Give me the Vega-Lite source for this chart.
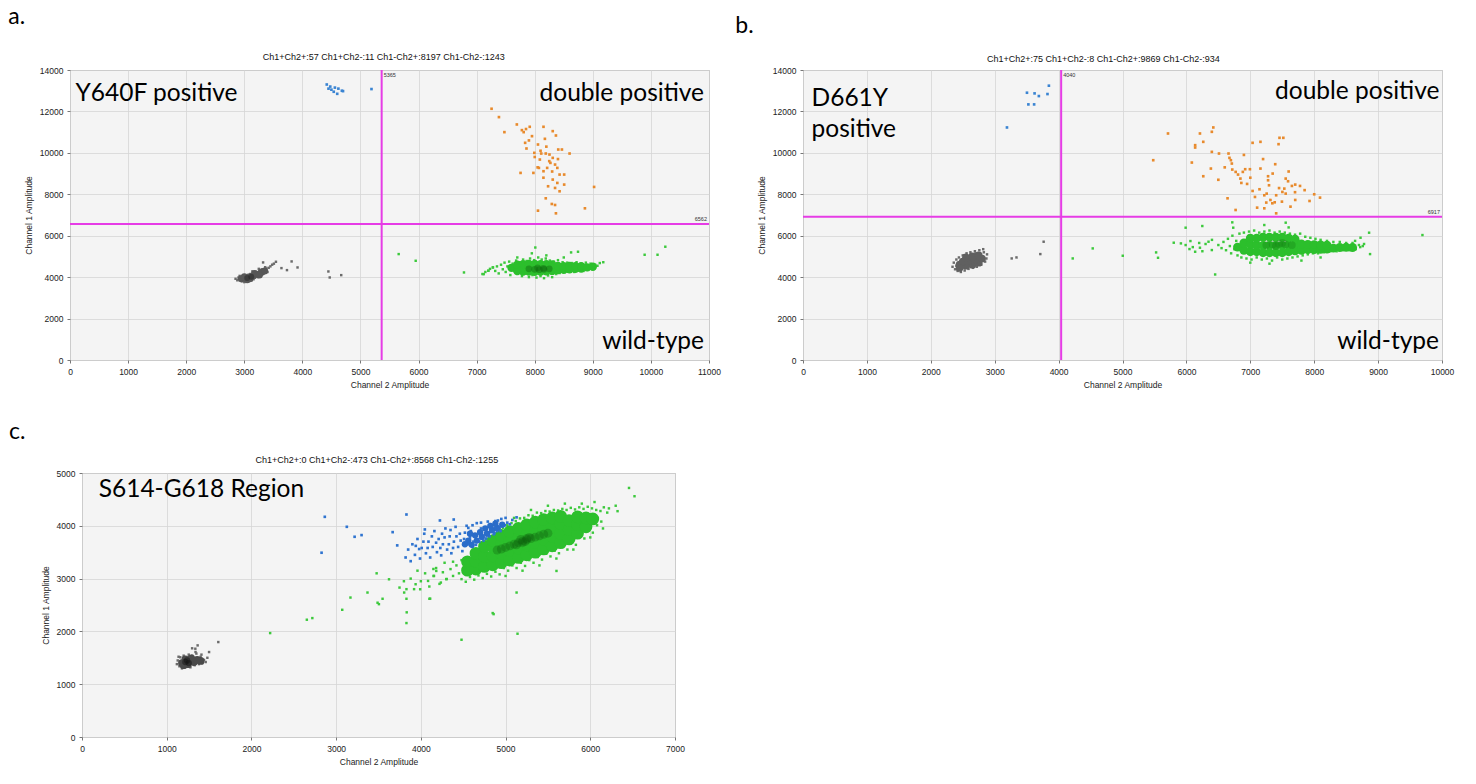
{
"$schema":"https://vega.github.io/schema/vega-lite/v6.json",
"background":"white",
"padding":{"left":7,"top":5,"right":5,"bottom":5},
"bounds":"flush",
"spacing":403,
"vconcat":[
{"hconcat":[
{"width":639,"height":290,
"title":{"text":"a.","dx":-16,"offset":24},
"layer":[
{"data":{"name":"aK"},"mark":{"type":"square","size":6,"color":"#6b6b6b","opacity":1},"encoding":{"x":{"field":"x","type":"quantitative","scale":{"domain":[0,11000],"nice":false},"axis":{"title":"Channel 2 Amplitude","tickCount":11}},"y":{"field":"y","type":"quantitative","scale":{"domain":[0,14000],"nice":false},"axis":{"title":"Channel 1 Amplitude","tickCount":7}}}},
{"data":{"name":"aKc"},"mark":{"type":"circle","size":50,"color":"#575757","opacity":1},"encoding":{"x":{"field":"x","type":"quantitative","scale":{"domain":[0,11000],"nice":false}},"y":{"field":"y","type":"quantitative","scale":{"domain":[0,14000],"nice":false}}}},
{"data":{"name":"aKd"},"mark":{"type":"circle","size":35,"color":"#222222","opacity":0.5},"encoding":{"x":{"field":"x","type":"quantitative","scale":{"domain":[0,11000],"nice":false}},"y":{"field":"y","type":"quantitative","scale":{"domain":[0,14000],"nice":false}}}},
{"data":{"name":"aB"},"mark":{"type":"square","size":7,"color":"#3a84d2","opacity":1},"encoding":{"x":{"field":"x","type":"quantitative","scale":{"domain":[0,11000],"nice":false}},"y":{"field":"y","type":"quantitative","scale":{"domain":[0,14000],"nice":false}}}},
{"data":{"name":"aO"},"mark":{"type":"square","size":7,"color":"#e88a2c","opacity":1},"encoding":{"x":{"field":"x","type":"quantitative","scale":{"domain":[0,11000],"nice":false}},"y":{"field":"y","type":"quantitative","scale":{"domain":[0,14000],"nice":false}}}},
{"data":{"name":"aG"},"mark":{"type":"square","size":6,"color":"#3cc93c","opacity":1},"encoding":{"x":{"field":"x","type":"quantitative","scale":{"domain":[0,11000],"nice":false}},"y":{"field":"y","type":"quantitative","scale":{"domain":[0,14000],"nice":false}}}},
{"data":{"name":"aGc"},"mark":{"type":"circle","size":70,"color":"#2cbf2c","opacity":1},"encoding":{"x":{"field":"x","type":"quantitative","scale":{"domain":[0,11000],"nice":false}},"y":{"field":"y","type":"quantitative","scale":{"domain":[0,14000],"nice":false}}}},
{"data":{"name":"aGd"},"mark":{"type":"circle","size":45,"color":"#0f6a0f","opacity":0.45},"encoding":{"x":{"field":"x","type":"quantitative","scale":{"domain":[0,11000],"nice":false}},"y":{"field":"y","type":"quantitative","scale":{"domain":[0,14000],"nice":false}}}},
{"data":{"name":"aV"},"mark":{"type":"rule","color":"#e63ce6","strokeWidth":2},"encoding":{"x":{"field":"x","type":"quantitative","scale":{"domain":[0,11000],"nice":false}}}},
{"data":{"name":"aH"},"mark":{"type":"rule","color":"#e63ce6","strokeWidth":2},"encoding":{"y":{"field":"y","type":"quantitative","scale":{"domain":[0,14000],"nice":false}}}},
{"data":{"name":"aV"},"mark":{"type":"text","font":"Liberation Sans","fontSize":5.5,"color":"#333","align":"left","baseline":"top","dx":2,"dy":3},"encoding":{"x":{"field":"x","type":"quantitative","scale":{"domain":[0,11000],"nice":false}},"y":{"datum":14000,"type":"quantitative","scale":{"domain":[0,14000],"nice":false}},"text":{"field":"t"}}},
{"data":{"name":"aH"},"mark":{"type":"text","font":"Liberation Sans","fontSize":5.5,"color":"#333","align":"right","baseline":"bottom","dx":-2,"dy":-2},"encoding":{"x":{"datum":11000,"type":"quantitative","scale":{"domain":[0,11000],"nice":false}},"y":{"field":"y","type":"quantitative","scale":{"domain":[0,14000],"nice":false}},"text":{"field":"t"}}},
{"data":{"name":"aS"},"mark":{"type":"text","font":"Liberation Sans","fontSize":9,"color":"#111","align":"center","baseline":"middle","dy":-13},"encoding":{"x":{"field":"x","type":"quantitative","scale":{"domain":[0,11000],"nice":false}},"y":{"datum":14000,"type":"quantitative","scale":{"domain":[0,14000],"nice":false}},"text":{"field":"t"}}},
{"data":{"name":"aTL"},"mark":{"type":"text","font":"Lato","fontSize":24.5,"color":"#000","align":"left","baseline":"alphabetic"},"encoding":{"x":{"field":"x","type":"quantitative","scale":{"domain":[0,11000],"nice":false}},"y":{"field":"y","type":"quantitative","scale":{"domain":[0,14000],"nice":false}},"text":{"field":"t"}}},
{"data":{"name":"aTR"},"mark":{"type":"text","font":"Lato","fontSize":24.5,"color":"#000","align":"right","baseline":"alphabetic"},"encoding":{"x":{"field":"x","type":"quantitative","scale":{"domain":[0,11000],"nice":false}},"y":{"field":"y","type":"quantitative","scale":{"domain":[0,14000],"nice":false}},"text":{"field":"t"}}}
]},
{"width":639,"height":290,
"title":{"text":"b.","dx":-22,"offset":17},
"layer":[
{"data":{"name":"bK"},"mark":{"type":"square","size":6,"color":"#6b6b6b","opacity":1},"encoding":{"x":{"field":"x","type":"quantitative","scale":{"domain":[0,10000],"nice":false},"axis":{"title":"Channel 2 Amplitude","tickCount":10}},"y":{"field":"y","type":"quantitative","scale":{"domain":[0,14000],"nice":false},"axis":{"title":"Channel 1 Amplitude","tickCount":7}}}},
{"data":{"name":"bKc"},"mark":{"type":"circle","size":60,"color":"#606060","opacity":1},"encoding":{"x":{"field":"x","type":"quantitative","scale":{"domain":[0,10000],"nice":false}},"y":{"field":"y","type":"quantitative","scale":{"domain":[0,14000],"nice":false}}}},
{"data":{"name":"bB"},"mark":{"type":"square","size":7,"color":"#3a84d2","opacity":1},"encoding":{"x":{"field":"x","type":"quantitative","scale":{"domain":[0,10000],"nice":false}},"y":{"field":"y","type":"quantitative","scale":{"domain":[0,14000],"nice":false}}}},
{"data":{"name":"bO"},"mark":{"type":"square","size":7,"color":"#e88a2c","opacity":1},"encoding":{"x":{"field":"x","type":"quantitative","scale":{"domain":[0,10000],"nice":false}},"y":{"field":"y","type":"quantitative","scale":{"domain":[0,14000],"nice":false}}}},
{"data":{"name":"bG"},"mark":{"type":"square","size":6,"color":"#3cc93c","opacity":1},"encoding":{"x":{"field":"x","type":"quantitative","scale":{"domain":[0,10000],"nice":false}},"y":{"field":"y","type":"quantitative","scale":{"domain":[0,14000],"nice":false}}}},
{"data":{"name":"bGc"},"mark":{"type":"circle","size":80,"color":"#2cbf2c","opacity":1},"encoding":{"x":{"field":"x","type":"quantitative","scale":{"domain":[0,10000],"nice":false}},"y":{"field":"y","type":"quantitative","scale":{"domain":[0,14000],"nice":false}}}},
{"data":{"name":"bGd"},"mark":{"type":"circle","size":60,"color":"#138013","opacity":0.35},"encoding":{"x":{"field":"x","type":"quantitative","scale":{"domain":[0,10000],"nice":false}},"y":{"field":"y","type":"quantitative","scale":{"domain":[0,14000],"nice":false}}}},
{"data":{"name":"bV"},"mark":{"type":"rule","color":"#e63ce6","strokeWidth":2},"encoding":{"x":{"field":"x","type":"quantitative","scale":{"domain":[0,10000],"nice":false}}}},
{"data":{"name":"bH"},"mark":{"type":"rule","color":"#e63ce6","strokeWidth":2},"encoding":{"y":{"field":"y","type":"quantitative","scale":{"domain":[0,14000],"nice":false}}}},
{"data":{"name":"bV"},"mark":{"type":"text","font":"Liberation Sans","fontSize":5.5,"color":"#333","align":"left","baseline":"top","dx":2,"dy":3},"encoding":{"x":{"field":"x","type":"quantitative","scale":{"domain":[0,10000],"nice":false}},"y":{"datum":14000,"type":"quantitative","scale":{"domain":[0,14000],"nice":false}},"text":{"field":"t"}}},
{"data":{"name":"bH"},"mark":{"type":"text","font":"Liberation Sans","fontSize":5.5,"color":"#333","align":"right","baseline":"bottom","dx":-2,"dy":-2},"encoding":{"x":{"datum":10000,"type":"quantitative","scale":{"domain":[0,10000],"nice":false}},"y":{"field":"y","type":"quantitative","scale":{"domain":[0,14000],"nice":false}},"text":{"field":"t"}}},
{"data":{"name":"bS"},"mark":{"type":"text","font":"Liberation Sans","fontSize":9,"color":"#111","align":"center","baseline":"middle","dy":-11},"encoding":{"x":{"field":"x","type":"quantitative","scale":{"domain":[0,10000],"nice":false}},"y":{"datum":14000,"type":"quantitative","scale":{"domain":[0,14000],"nice":false}},"text":{"field":"t"}}},
{"data":{"name":"bTL"},"mark":{"type":"text","font":"Lato","fontSize":24.5,"color":"#000","align":"left","baseline":"alphabetic"},"encoding":{"x":{"field":"x","type":"quantitative","scale":{"domain":[0,10000],"nice":false}},"y":{"field":"y","type":"quantitative","scale":{"domain":[0,14000],"nice":false}},"text":{"field":"t"}}},
{"data":{"name":"bTR"},"mark":{"type":"text","font":"Lato","fontSize":24.5,"color":"#000","align":"right","baseline":"alphabetic"},"encoding":{"x":{"field":"x","type":"quantitative","scale":{"domain":[0,10000],"nice":false}},"y":{"field":"y","type":"quantitative","scale":{"domain":[0,14000],"nice":false}},"text":{"field":"t"}}}
]}
],"spacing":94,"bounds":"flush"},
{"hconcat":[
{"width":12,"height":264,"view":{"fill":null,"stroke":null},"data":{"values":[{"a":1}]},"mark":{"type":"point","opacity":0},"encoding":{}},
{"width":593,"height":264,
"title":{"text":"c.","dx":-32,"offset":12},
"layer":[
{"data":{"name":"cK"},"mark":{"type":"square","size":6,"color":"#6b6b6b","opacity":1},"encoding":{"x":{"field":"x","type":"quantitative","scale":{"domain":[0,7000],"nice":false},"axis":{"title":"Channel 2 Amplitude","tickCount":7}},"y":{"field":"y","type":"quantitative","scale":{"domain":[0,5000],"nice":false},"axis":{"title":"Channel 1 Amplitude","tickCount":5}}}},
{"data":{"name":"cKc"},"mark":{"type":"circle","size":60,"color":"#4a4a4a","opacity":1},"encoding":{"x":{"field":"x","type":"quantitative","scale":{"domain":[0,7000],"nice":false}},"y":{"field":"y","type":"quantitative","scale":{"domain":[0,5000],"nice":false}}}},
{"data":{"name":"cKd"},"mark":{"type":"circle","size":40,"color":"#111111","opacity":0.5},"encoding":{"x":{"field":"x","type":"quantitative","scale":{"domain":[0,7000],"nice":false}},"y":{"field":"y","type":"quantitative","scale":{"domain":[0,5000],"nice":false}}}},
{"data":{"name":"cG"},"mark":{"type":"square","size":6,"color":"#3cc93c","opacity":1},"encoding":{"x":{"field":"x","type":"quantitative","scale":{"domain":[0,7000],"nice":false}},"y":{"field":"y","type":"quantitative","scale":{"domain":[0,5000],"nice":false}}}},
{"data":{"name":"cGc"},"mark":{"type":"circle","size":160,"color":"#2cbf2c","opacity":1},"encoding":{"x":{"field":"x","type":"quantitative","scale":{"domain":[0,7000],"nice":false}},"y":{"field":"y","type":"quantitative","scale":{"domain":[0,5000],"nice":false}}}},
{"data":{"name":"cGd"},"mark":{"type":"circle","size":80,"color":"#0d5c0d","opacity":0.3},"encoding":{"x":{"field":"x","type":"quantitative","scale":{"domain":[0,7000],"nice":false}},"y":{"field":"y","type":"quantitative","scale":{"domain":[0,5000],"nice":false}}}},
{"data":{"name":"cB"},"mark":{"type":"square","size":7,"color":"#2f74d0","opacity":1},"encoding":{"x":{"field":"x","type":"quantitative","scale":{"domain":[0,7000],"nice":false}},"y":{"field":"y","type":"quantitative","scale":{"domain":[0,5000],"nice":false}}}},
{"data":{"name":"cBc"},"mark":{"type":"circle","size":40,"color":"#2a6cc9","opacity":1},"encoding":{"x":{"field":"x","type":"quantitative","scale":{"domain":[0,7000],"nice":false}},"y":{"field":"y","type":"quantitative","scale":{"domain":[0,5000],"nice":false}}}},
{"data":{"name":"cS"},"mark":{"type":"text","font":"Liberation Sans","fontSize":9,"color":"#111","align":"center","baseline":"middle","dy":-13},"encoding":{"x":{"field":"x","type":"quantitative","scale":{"domain":[0,7000],"nice":false}},"y":{"datum":5000,"type":"quantitative","scale":{"domain":[0,5000],"nice":false}},"text":{"field":"t"}}},
{"data":{"name":"cTL"},"mark":{"type":"text","font":"Lato","fontSize":24.5,"color":"#000","align":"left","baseline":"alphabetic"},"encoding":{"x":{"field":"x","type":"quantitative","scale":{"domain":[0,7000],"nice":false}},"y":{"field":"y","type":"quantitative","scale":{"domain":[0,5000],"nice":false}},"text":{"field":"t"}}}
]}
],"spacing":0,"bounds":"flush"}
],
"datasets":{
"aK":[{"x":2880,"y":3850},{"x":2900,"y":3980},{"x":2920,"y":4060},{"x":2960,"y":3800},{"x":3000,"y":3760},{"x":3040,"y":3880},{"x":3060,"y":4100},{"x":3100,"y":4150},{"x":3120,"y":3840},{"x":3160,"y":3900},{"x":3200,"y":4250},{"x":3230,"y":4000},{"x":3270,"y":4320},{"x":3300,"y":4380},{"x":3330,"y":4160},{"x":3380,"y":4420},{"x":3420,"y":4450},{"x":3450,"y":4520},{"x":3480,"y":4600},{"x":3510,"y":4650},{"x":3400,"y":4250},{"x":3360,"y":4480},{"x":3250,"y":4400},{"x":2850,"y":3920},{"x":3140,"y":4280},{"x":3180,"y":3980},{"x":3324,"y":4710},{"x":3545,"y":4742},{"x":3640,"y":4436},{"x":3735,"y":4339},{"x":3815,"y":4758},{"x":3917,"y":4468},{"x":4448,"y":4274},{"x":4471,"y":3984},{"x":4669,"y":4097}],
"aKc":[{"x":2950,"y":3920},{"x":3020,"y":3960},{"x":3080,"y":4000},{"x":3150,"y":4060},{"x":3220,"y":4130},{"x":3290,"y":4220},{"x":3350,"y":4300},{"x":3000,"y":4020},{"x":3100,"y":3930},{"x":3180,"y":4180},{"x":3260,"y":4100},{"x":3050,"y":3880}],
"aKd":[{"x":3050,"y":3960},{"x":3120,"y":4020}],
"aB":[{"x":4420,"y":13300},{"x":4480,"y":13200},{"x":4560,"y":13150},{"x":4500,"y":13050},{"x":4620,"y":13100},{"x":4680,"y":13000},{"x":4540,"y":12950},{"x":4600,"y":12850},{"x":4700,"y":12980},{"x":4450,"y":13100},{"x":5190,"y":13080}],
"aO":[{"x":7257,"y":12129},{"x":7384,"y":11726},{"x":7478,"y":11000},{"x":7692,"y":11371},{"x":7779,"y":11097},{"x":7810,"y":11000},{"x":7914,"y":11258},{"x":8151,"y":11258},{"x":8310,"y":11048},{"x":8365,"y":10838},{"x":7835,"y":10484},{"x":7953,"y":10806},{"x":8056,"y":10403},{"x":8175,"y":10677},{"x":7858,"y":10210},{"x":7993,"y":10000},{"x":8112,"y":9968},{"x":8190,"y":9968},{"x":8254,"y":9919},{"x":8405,"y":10161},{"x":8468,"y":10161},{"x":8600,"y":9968},{"x":8088,"y":9677},{"x":8310,"y":9758},{"x":8270,"y":9516},{"x":8350,"y":9435},{"x":8389,"y":9274},{"x":8214,"y":9274},{"x":8151,"y":9113},{"x":7977,"y":9032},{"x":7756,"y":9032},{"x":8428,"y":8952},{"x":8507,"y":8952},{"x":8310,"y":8710},{"x":8389,"y":8548},{"x":8230,"y":8387},{"x":8507,"y":8468},{"x":8350,"y":8306},{"x":8428,"y":8145},{"x":9022,"y":8355},{"x":8072,"y":9274},{"x":8190,"y":7806},{"x":8294,"y":7532},{"x":8350,"y":7484},{"x":8056,"y":7210},{"x":8365,"y":7081},{"x":8864,"y":7323},{"x":8000,"y":9800},{"x":8100,"y":10100},{"x":8250,"y":9600},{"x":8150,"y":8800},{"x":8300,"y":9100},{"x":7900,"y":10600},{"x":8200,"y":10300},{"x":8050,"y":9300},{"x":8400,"y":9700},{"x":7850,"y":11150}],
"aG":[{"x":7100,"y":4150},{"x":7150,"y":4250},{"x":7200,"y":4310},{"x":7230,"y":4400},{"x":7280,"y":4470},{"x":7320,"y":4300},{"x":7350,"y":4520},{"x":7380,"y":4180},{"x":7420,"y":4600},{"x":7450,"y":4380},{"x":7480,"y":4700},{"x":7500,"y":4250},{"x":7530,"y":4520},{"x":7560,"y":4750},{"x":7580,"y":4100},{"x":7620,"y":4650},{"x":7650,"y":4300},{"x":7680,"y":4800},{"x":7700,"y":4150},{"x":7740,"y":4720},{"x":7780,"y":4050},{"x":7800,"y":4850},{"x":7830,"y":4200},{"x":7860,"y":4780},{"x":7900,"y":4000},{"x":7920,"y":4900},{"x":7960,"y":4100},{"x":7990,"y":4820},{"x":8010,"y":5430},{"x":8030,"y":3980},{"x":8060,"y":4950},{"x":8100,"y":4050},{"x":8120,"y":4850},{"x":8160,"y":3950},{"x":8190,"y":4900},{"x":8230,"y":4080},{"x":8260,"y":4800},{"x":8300,"y":4000},{"x":8330,"y":4750},{"x":8370,"y":4150},{"x":8400,"y":4820},{"x":8430,"y":4200},{"x":8480,"y":4720},{"x":8520,"y":4250},{"x":8560,"y":4700},{"x":8600,"y":4300},{"x":8640,"y":4680},{"x":8680,"y":4250},{"x":8720,"y":4720},{"x":8760,"y":4320},{"x":8800,"y":4650},{"x":8840,"y":4300},{"x":8880,"y":4700},{"x":8920,"y":4350},{"x":8960,"y":4650},{"x":9000,"y":4400},{"x":9040,"y":4600},{"x":9080,"y":4550},{"x":9120,"y":4680},{"x":9180,"y":4720},{"x":8626,"y":5194},{"x":8745,"y":5226},{"x":5658,"y":5113},{"x":5951,"y":4790},{"x":6782,"y":4226},{"x":9892,"y":5081},{"x":10114,"y":5081},{"x":10248,"y":5468},{"x":7122,"y":4145},{"x":7202,"y":4307},{"x":7280,"y":4468},{"x":7950,"y":5150},{"x":8200,"y":5050},{"x":8500,"y":4950},{"x":7700,"y":4950}],
"aGc":[{"x":7600,"y":4450},{"x":7700,"y":4300},{"x":7700,"y":4600},{"x":7800,"y":4270},{"x":7800,"y":4450},{"x":7800,"y":4630},{"x":7900,"y":4270},{"x":7900,"y":4450},{"x":7900,"y":4640},{"x":8000,"y":4260},{"x":8000,"y":4450},{"x":8000,"y":4640},{"x":8100,"y":4270},{"x":8100,"y":4450},{"x":8100,"y":4630},{"x":8200,"y":4280},{"x":8200,"y":4450},{"x":8200,"y":4620},{"x":8300,"y":4300},{"x":8300,"y":4470},{"x":8300,"y":4610},{"x":8400,"y":4340},{"x":8400,"y":4540},{"x":8500,"y":4350},{"x":8500,"y":4530},{"x":8600,"y":4380},{"x":8600,"y":4540},{"x":8700,"y":4400},{"x":8700,"y":4530},{"x":8800,"y":4420},{"x":8800,"y":4530},{"x":8900,"y":4470},{"x":9000,"y":4500}],
"aGd":[{"x":7900,"y":4400},{"x":8000,"y":4380},{"x":8080,"y":4360},{"x":8160,"y":4380},{"x":8250,"y":4400},{"x":8050,"y":4450},{"x":8150,"y":4430}],
"aV":[{"x":5365,"t":"5365"}],
"aH":[{"y":6562,"t":"6562"}],
"aS":[{"x":5400,"t":"Ch1+Ch2+:57 Ch1+Ch2-:11 Ch1-Ch2+:8197 Ch1-Ch2-:1243"}],
"aTL":[{"x":96,"y":12518,"t":"Y640F positive"}],
"aTR":[{"x":10914,"y":12518,"t":"double positive"},{"x":10914,"y":531,"t":"wild-type"}],
"bK":[{"x":2340,"y":4500},{"x":2360,"y":4700},{"x":2380,"y":4380},{"x":2400,"y":4850},{"x":2420,"y":4300},{"x":2440,"y":4950},{"x":2470,"y":4250},{"x":2500,"y":5050},{"x":2530,"y":4320},{"x":2560,"y":5150},{"x":2590,"y":4400},{"x":2620,"y":5200},{"x":2660,"y":4450},{"x":2690,"y":5250},{"x":2720,"y":4500},{"x":2760,"y":5300},{"x":2790,"y":4600},{"x":2820,"y":5350},{"x":2850,"y":4750},{"x":2880,"y":5100},{"x":2870,"y":4900},{"x":2830,"y":5200},{"x":2480,"y":4650},{"x":2700,"y":5150},{"x":2400,"y":4550},{"x":3341,"y":4952},{"x":3266,"y":4903},{"x":3714,"y":5113},{"x":3766,"y":5710}],
"bKc":[{"x":2450,"y":4600},{"x":2550,"y":4550},{"x":2650,"y":4600},{"x":2750,"y":4700},{"x":2500,"y":4750},{"x":2600,"y":4800},{"x":2700,"y":4850},{"x":2800,"y":4900},{"x":2550,"y":4950},{"x":2650,"y":5000},{"x":2450,"y":4450},{"x":2750,"y":5050}],
"bB":[{"x":3192,"y":11226},{"x":3505,"y":12903},{"x":3624,"y":12871},{"x":3691,"y":12742},{"x":3826,"y":12839},{"x":3848,"y":13242},{"x":3527,"y":12339},{"x":3617,"y":12339}],
"bO":[{"x":5712,"y":10935},{"x":5481,"y":9645},{"x":6085,"y":9532},{"x":6212,"y":10935},{"x":6398,"y":11016},{"x":6421,"y":11226},{"x":6264,"y":10532},{"x":6137,"y":10371},{"x":6137,"y":10258},{"x":6398,"y":10048},{"x":6510,"y":9968},{"x":6659,"y":9968},{"x":6674,"y":9758},{"x":6696,"y":9645},{"x":6711,"y":9484},{"x":6383,"y":9242},{"x":6264,"y":8871},{"x":6718,"y":9194},{"x":6771,"y":9081},{"x":6808,"y":8952},{"x":6883,"y":9081},{"x":6920,"y":9210},{"x":6994,"y":9210},{"x":7159,"y":9242},{"x":6845,"y":8758},{"x":6860,"y":8548},{"x":7036,"y":10484},{"x":7159,"y":10532},{"x":7442,"y":10419},{"x":7457,"y":10726},{"x":7517,"y":10726},{"x":7390,"y":9452},{"x":7278,"y":8871},{"x":7278,"y":8677},{"x":7293,"y":8435},{"x":7144,"y":8242},{"x":7036,"y":8161},{"x":7256,"y":8032},{"x":7554,"y":8758},{"x":7591,"y":8629},{"x":7651,"y":8403},{"x":7532,"y":8274},{"x":7703,"y":8468},{"x":7778,"y":8403},{"x":7554,"y":8032},{"x":8091,"y":7839},{"x":7073,"y":7871},{"x":7219,"y":7952},{"x":7405,"y":7952},{"x":7502,"y":8113},{"x":6644,"y":7806},{"x":7315,"y":7726},{"x":7345,"y":7565},{"x":7703,"y":7726},{"x":7927,"y":7677},{"x":6770,"y":7242},{"x":7107,"y":7355},{"x":7219,"y":7323},{"x":7405,"y":7081},{"x":7629,"y":7403},{"x":7495,"y":7645},{"x":7382,"y":7613},{"x":6500,"y":8700},{"x":6950,"y":8500},{"x":7200,"y":9700},{"x":7350,"y":9000},{"x":7600,"y":9100},{"x":7000,"y":8800},{"x":7450,"y":8300},{"x":7700,"y":8100},{"x":7850,"y":8200},{"x":8000,"y":8000},{"x":6600,"y":9300},{"x":6900,"y":9900},{"x":7250,"y":7600}],
"bG":[{"x":6500,"y":5550},{"x":6550,"y":5400},{"x":6580,"y":5700},{"x":6620,"y":5300},{"x":6650,"y":5850},{"x":6680,"y":5500},{"x":6700,"y":5150},{"x":6720,"y":6000},{"x":6750,"y":5350},{"x":6780,"y":5750},{"x":6800,"y":5050},{"x":6830,"y":6100},{"x":6860,"y":4950},{"x":6900,"y":6150},{"x":6940,"y":4900},{"x":6980,"y":6200},{"x":7020,"y":4850},{"x":7060,"y":6250},{"x":7100,"y":4950},{"x":7140,"y":6150},{"x":7180,"y":4850},{"x":7220,"y":6200},{"x":7260,"y":4900},{"x":7300,"y":6250},{"x":7340,"y":4800},{"x":7380,"y":6150},{"x":7420,"y":4950},{"x":7460,"y":6200},{"x":7500,"y":4850},{"x":7540,"y":6150},{"x":7580,"y":4900},{"x":7620,"y":6100},{"x":7660,"y":4950},{"x":7700,"y":6050},{"x":7740,"y":5000},{"x":7780,"y":6100},{"x":7820,"y":5050},{"x":7860,"y":5950},{"x":7900,"y":5100},{"x":7940,"y":5900},{"x":7980,"y":5150},{"x":8020,"y":5850},{"x":8060,"y":5150},{"x":8100,"y":5800},{"x":8150,"y":5200},{"x":8200,"y":5750},{"x":8250,"y":5250},{"x":8300,"y":5700},{"x":8350,"y":5250},{"x":8400,"y":5700},{"x":8450,"y":5300},{"x":8500,"y":5650},{"x":8550,"y":5300},{"x":8600,"y":5650},{"x":8650,"y":5350},{"x":8700,"y":5550},{"x":8720,"y":5450},{"x":8760,"y":5500},{"x":8640,"y":5750},{"x":8780,"y":5600},{"x":5802,"y":5662},{"x":5914,"y":5629},{"x":5988,"y":5549},{"x":6063,"y":5742},{"x":5988,"y":6387},{"x":6249,"y":6468},{"x":6718,"y":6645},{"x":6733,"y":6387},{"x":7554,"y":6629},{"x":7219,"y":6516},{"x":8859,"y":6145},{"x":8725,"y":5903},{"x":8874,"y":5113},{"x":9694,"y":6032},{"x":6450,"y":4129},{"x":6048,"y":5355},{"x":6137,"y":5226},{"x":6212,"y":5420},{"x":6346,"y":5710},{"x":6398,"y":5307},{"x":4221,"y":4903},{"x":4534,"y":5387},{"x":5004,"y":5033},{"x":5526,"y":5194},{"x":5556,"y":4935},{"x":6300,"y":5600},{"x":6250,"y":5250},{"x":6400,"y":5800},{"x":6200,"y":5650},{"x":6100,"y":5450},{"x":7600,"y":6400},{"x":7000,"y":4700},{"x":7300,"y":4650},{"x":7800,"y":4800},{"x":8100,"y":4950}],
"bGc":[{"x":6800,"y":5450},{"x":6900,"y":5300},{"x":6900,"y":5650},{"x":7000,"y":5230},{"x":7000,"y":5580},{"x":7000,"y":5880},{"x":7100,"y":5230},{"x":7100,"y":5530},{"x":7100,"y":5880},{"x":7200,"y":5180},{"x":7200,"y":5530},{"x":7200,"y":5930},{"x":7300,"y":5180},{"x":7300,"y":5530},{"x":7300,"y":5930},{"x":7400,"y":5180},{"x":7400,"y":5530},{"x":7400,"y":5930},{"x":7500,"y":5180},{"x":7500,"y":5530},{"x":7500,"y":5930},{"x":7600,"y":5230},{"x":7600,"y":5530},{"x":7600,"y":5880},{"x":7700,"y":5270},{"x":7700,"y":5570},{"x":7700,"y":5830},{"x":7800,"y":5300},{"x":7800,"y":5600},{"x":7900,"y":5330},{"x":7900,"y":5580},{"x":8000,"y":5330},{"x":8000,"y":5570},{"x":8100,"y":5340},{"x":8100,"y":5550},{"x":8200,"y":5360},{"x":8200,"y":5540},{"x":8300,"y":5400},{"x":8400,"y":5430},{"x":8500,"y":5440},{"x":8600,"y":5430}],
"bGd":[{"x":7250,"y":5550},{"x":7350,"y":5580},{"x":7450,"y":5600},{"x":7550,"y":5580},{"x":7650,"y":5550},{"x":7400,"y":5500},{"x":7500,"y":5650}],
"bV":[{"x":4040,"t":"4040"}],
"bH":[{"y":6917,"t":"6917"}],
"bS":[{"x":4700,"t":"Ch1+Ch2+:75 Ch1+Ch2-:8 Ch1-Ch2+:9869 Ch1-Ch2-:934"}],
"bTL":[{"x":134,"y":12262,"t":"D661Y"},{"x":134,"y":10766,"t":"positive"}],
"bTR":[{"x":9960,"y":12600,"t":"double positive"},{"x":9953,"y":531,"t":"wild-type"}],
"cK":[{"x":1120,"y":1380},{"x":1130,"y":1450},{"x":1150,"y":1340},{"x":1160,"y":1510},{"x":1180,"y":1300},{"x":1200,"y":1540},{"x":1230,"y":1330},{"x":1260,"y":1560},{"x":1280,"y":1320},{"x":1300,"y":1540},{"x":1330,"y":1360},{"x":1350,"y":1580},{"x":1380,"y":1380},{"x":1400,"y":1520},{"x":1420,"y":1400},{"x":1440,"y":1460},{"x":1460,"y":1420},{"x":1340,"y":1610},{"x":1300,"y":1680},{"x":1365,"y":1735},{"x":1338,"y":1672},{"x":1500,"y":1609},{"x":1609,"y":1798},{"x":1480,"y":1500},{"x":1140,"y":1520},{"x":1410,"y":1560}],
"cKc":[{"x":1180,"y":1400},{"x":1250,"y":1380},{"x":1320,"y":1420},{"x":1220,"y":1470},{"x":1290,"y":1490},{"x":1360,"y":1460},{"x":1200,"y":1360},{"x":1400,"y":1440}],
"cKd":[{"x":1220,"y":1420},{"x":1260,"y":1400},{"x":1240,"y":1450}],
"cG":[{"x":4480,"y":2990},{"x":4530,"y":2940},{"x":4580,"y":3030},{"x":4630,"y":2980},{"x":4680,"y":3060},{"x":4730,"y":3010},{"x":4780,"y":3090},{"x":4830,"y":3040},{"x":4880,"y":3130},{"x":4930,"y":3080},{"x":4980,"y":3200},{"x":5030,"y":3150},{"x":5080,"y":3250},{"x":5130,"y":3200},{"x":5180,"y":3300},{"x":5230,"y":3240},{"x":5280,"y":3350},{"x":5330,"y":3300},{"x":5380,"y":3410},{"x":5430,"y":3360},{"x":5480,"y":3470},{"x":5530,"y":3420},{"x":5580,"y":3530},{"x":5630,"y":3480},{"x":5680,"y":3600},{"x":5730,"y":3550},{"x":5780,"y":3690},{"x":5830,"y":3640},{"x":5880,"y":3800},{"x":5930,"y":3760},{"x":5980,"y":3910},{"x":6030,"y":3870},{"x":6080,"y":4010},{"x":6130,"y":4080},{"x":4720,"y":3680},{"x":4770,"y":3740},{"x":4820,"y":3800},{"x":4870,"y":3850},{"x":4920,"y":3900},{"x":4970,"y":3960},{"x":5020,"y":4010},{"x":5070,"y":4050},{"x":5120,"y":4090},{"x":5170,"y":4140},{"x":5220,"y":4150},{"x":5270,"y":4200},{"x":5320,"y":4190},{"x":5370,"y":4250},{"x":5420,"y":4240},{"x":5470,"y":4280},{"x":5520,"y":4270},{"x":5570,"y":4300},{"x":5620,"y":4290},{"x":5670,"y":4320},{"x":5720,"y":4300},{"x":5770,"y":4340},{"x":5820,"y":4310},{"x":5870,"y":4350},{"x":5920,"y":4320},{"x":5970,"y":4360},{"x":6020,"y":4330},{"x":6070,"y":4300},{"x":6120,"y":4280},{"x":6160,"y":4350},{"x":6220,"y":4330},{"x":6300,"y":4380},{"x":5000,"y":3050},{"x":5200,"y":3150},{"x":5400,"y":3250},{"x":5600,"y":3380},{"x":5800,"y":3550},{"x":6000,"y":3780},{"x":6150,"y":3950},{"x":5100,"y":4150},{"x":5300,"y":4300},{"x":5500,"y":4380},{"x":5700,"y":4420},{"x":5900,"y":4420},{"x":6050,"y":4450},{"x":6200,"y":4250},{"x":4450,"y":3100},{"x":4420,"y":3250},{"x":4380,"y":3050},{"x":4350,"y":3180},{"x":4300,"y":2990},{"x":4260,"y":3120},{"x":4220,"y":2900},{"x":4180,"y":3200},{"x":4150,"y":3050},{"x":4110,"y":2620},{"x":4100,"y":2850},{"x":4050,"y":3100},{"x":4000,"y":2950},{"x":3960,"y":3150},{"x":3920,"y":2800},{"x":3880,"y":3000},{"x":3830,"y":2800},{"x":3800,"y":2950},{"x":4148,"y":3182},{"x":4305,"y":2992},{"x":3833,"y":2361},{"x":4480,"y":3350},{"x":4380,"y":3320},{"x":4280,"y":3300},{"x":3478,"y":3100},{"x":3624,"y":2987},{"x":3748,"y":2830},{"x":3803,"y":2736},{"x":3938,"y":2893},{"x":3992,"y":2798},{"x":4085,"y":2956},{"x":4155,"y":3050},{"x":4182,"y":3145},{"x":4236,"y":2925},{"x":3169,"y":2641},{"x":3370,"y":2736},{"x":3505,"y":2516},{"x":3072,"y":2409},{"x":2719,"y":2252},{"x":2221,"y":1968},{"x":2654,"y":2221},{"x":3489,"y":2543},{"x":3548,"y":2618},{"x":3830,"y":2618},{"x":3830,"y":2158},{"x":4101,"y":2618},{"x":4480,"y":1842},{"x":4848,"y":2347},{"x":5141,"y":1956},{"x":6457,"y":4717},{"x":6522,"y":4560},{"x":6322,"y":4277},{"x":5601,"y":3145},{"x":5130,"y":2736},{"x":4859,"y":2327}],
"cGc":[{"x":4550,"y":3160},{"x":4550,"y":3320},{"x":4650,"y":3180},{"x":4650,"y":3330},{"x":4650,"y":3480},{"x":4750,"y":3230},{"x":4750,"y":3420},{"x":4750,"y":3610},{"x":4850,"y":3260},{"x":4850,"y":3430},{"x":4850,"y":3600},{"x":4850,"y":3720},{"x":4950,"y":3300},{"x":4950,"y":3480},{"x":4950,"y":3660},{"x":4950,"y":3820},{"x":5050,"y":3350},{"x":5050,"y":3530},{"x":5050,"y":3710},{"x":5050,"y":3890},{"x":5150,"y":3400},{"x":5150,"y":3580},{"x":5150,"y":3760},{"x":5150,"y":3950},{"x":5250,"y":3450},{"x":5250,"y":3640},{"x":5250,"y":3830},{"x":5250,"y":4020},{"x":5350,"y":3500},{"x":5350,"y":3690},{"x":5350,"y":3880},{"x":5350,"y":4070},{"x":5450,"y":3560},{"x":5450,"y":3750},{"x":5450,"y":3940},{"x":5450,"y":4120},{"x":5550,"y":3620},{"x":5550,"y":3800},{"x":5550,"y":3980},{"x":5550,"y":4150},{"x":5650,"y":3680},{"x":5650,"y":3860},{"x":5650,"y":4040},{"x":5650,"y":4180},{"x":5750,"y":3750},{"x":5750,"y":3930},{"x":5750,"y":4100},{"x":5850,"y":3860},{"x":5850,"y":4020},{"x":5850,"y":4170},{"x":5950,"y":3980},{"x":5950,"y":4150},{"x":6030,"y":4130}],
"cGd":[{"x":4900,"y":3540},{"x":4950,"y":3560},{"x":5000,"y":3590},{"x":5050,"y":3620},{"x":5100,"y":3650},{"x":5150,"y":3680},{"x":5200,"y":3710},{"x":5250,"y":3735},{"x":5300,"y":3760},{"x":5350,"y":3785},{"x":5400,"y":3810},{"x":5450,"y":3840},{"x":5500,"y":3860},{"x":5180,"y":3740},{"x":5230,"y":3700},{"x":5280,"y":3780},{"x":5130,"y":3640},{"x":5200,"y":3680},{"x":5250,"y":3760}],
"cB":[{"x":3820,"y":3400},{"x":3850,"y":3550},{"x":3880,"y":3330},{"x":3900,"y":3650},{"x":3930,"y":3450},{"x":3960,"y":3750},{"x":3990,"y":3380},{"x":4010,"y":3580},{"x":4040,"y":3850},{"x":4060,"y":3480},{"x":4090,"y":3700},{"x":4110,"y":3400},{"x":4140,"y":3600},{"x":4160,"y":3900},{"x":4190,"y":3500},{"x":4210,"y":3750},{"x":4240,"y":3440},{"x":4260,"y":3650},{"x":4290,"y":3950},{"x":4310,"y":3550},{"x":4340,"y":3800},{"x":4360,"y":3480},{"x":4390,"y":3700},{"x":4410,"y":3980},{"x":4440,"y":3600},{"x":4460,"y":3850},{"x":4490,"y":3520},{"x":4510,"y":3750},{"x":4540,"y":4000},{"x":4560,"y":3650},{"x":4590,"y":3900},{"x":4610,"y":3600},{"x":4640,"y":3800},{"x":4660,"y":4050},{"x":4690,"y":3700},{"x":4710,"y":3950},{"x":4740,"y":3720},{"x":4760,"y":3850},{"x":4790,"y":4080},{"x":4810,"y":3800},{"x":4840,"y":3980},{"x":4860,"y":3840},{"x":4890,"y":3920},{"x":4910,"y":4100},{"x":4940,"y":3900},{"x":4960,"y":4000},{"x":4990,"y":4010},{"x":5020,"y":4060},{"x":5050,"y":4030},{"x":5080,"y":4110},{"x":4580,"y":3780},{"x":4620,"y":3700},{"x":4680,"y":3880},{"x":4720,"y":3790},{"x":4770,"y":3760},{"x":4820,"y":3880},{"x":4870,"y":3860},{"x":4930,"y":3950},{"x":4650,"y":3640},{"x":4700,"y":3820},{"x":4750,"y":3940},{"x":4800,"y":3830},{"x":4850,"y":3900},{"x":4900,"y":3900},{"x":4520,"y":3870},{"x":4470,"y":3720},{"x":4420,"y":3800},{"x":4380,"y":3580},{"x":4330,"y":3650},{"x":4280,"y":3780},{"x":4230,"y":3580},{"x":4180,"y":3680},{"x":4130,"y":3800},{"x":4080,"y":3580},{"x":4030,"y":3700},{"x":3980,"y":3560},{"x":4560,"y":3960},{"x":4610,"y":4010},{"x":4710,"y":4060},{"x":4820,"y":4030},{"x":4950,"y":4130},{"x":5130,"y":4160},{"x":5000,"y":4150},{"x":4880,"y":4090},{"x":3940,"y":3620},{"x":4250,"y":3850},{"x":4350,"y":3920},{"x":2866,"y":4170},{"x":3126,"y":3981},{"x":3218,"y":3792},{"x":3300,"y":3824},{"x":2828,"y":3490},{"x":3830,"y":4214},{"x":3667,"y":3880},{"x":3721,"y":3629},{"x":4225,"y":4101},{"x":4388,"y":4119},{"x":4047,"y":3931}],
"cBc":[{"x":4600,"y":3640},{"x":4660,"y":3720},{"x":4720,"y":3790},{"x":4780,"y":3850},{"x":4840,"y":3920},{"x":4900,"y":3960},{"x":4960,"y":4020},{"x":4640,"y":3820},{"x":4700,"y":3880},{"x":4760,"y":3950},{"x":4820,"y":4000},{"x":4560,"y":3720},{"x":4520,"y":3650},{"x":4580,"y":3850},{"x":4880,"y":4040}],
"cS":[{"x":3480,"t":"Ch1+Ch2+:0 Ch1+Ch2-:473 Ch1-Ch2+:8568 Ch1-Ch2-:1255"}],
"cTL":[{"x":197,"y":4554,"t":"S614-G618 Region"}]
},
"config":{
"view":{"fill":"#f4f4f4","stroke":"#a8a8a8","strokeWidth":1},
"axis":{"labelFont":"Liberation Sans","labelFontSize":8.5,"labelColor":"#222","titleFont":"Liberation Sans","titleFontSize":8.5,"titleFontWeight":"normal","titleColor":"#222","gridColor":"#d6d6d6","gridWidth":0.8,"domain":false,"tickColor":"#777","tickSize":3,"labelFlush":false,"labelOverlap":false,"format":"d"},
"axisX":{"labelPadding":4,"titlePadding":5},
"axisY":{"labelPadding":4,"titlePadding":6},
"title":{"font":"Lato","fontSize":23,"fontWeight":"normal","color":"#000","anchor":"start","frame":"bounds","baseline":"alphabetic"}
}
}
